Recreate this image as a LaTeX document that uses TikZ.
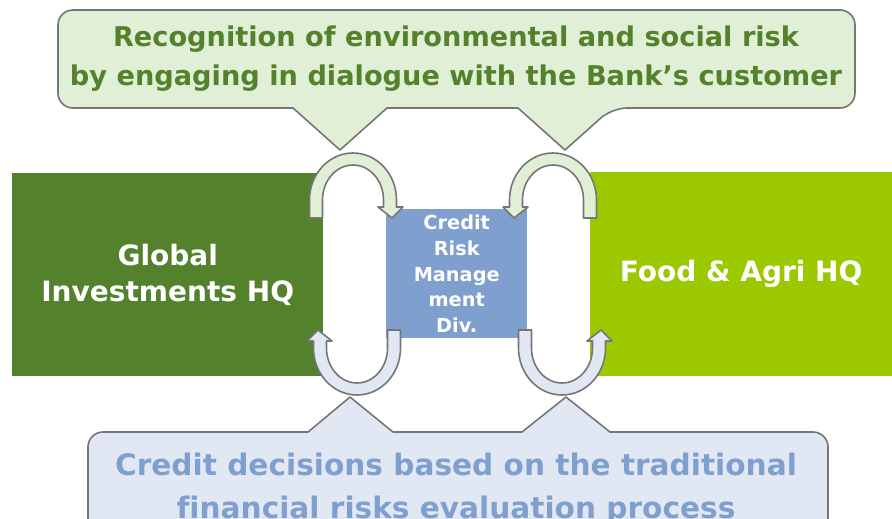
\documentclass[tikz,border=0pt]{standalone}
\usepackage{fontspec}
\setmainfont{DejaVu Sans}[Ligatures=NoCommon]
\definecolor{gdark}{RGB}{84,130,44}
\definecolor{glime}{RGB}{156,200,0}
\definecolor{cblue}{RGB}{127,159,207}
\definecolor{cgreenfill}{RGB}{224,239,214}
\definecolor{cbluefill}{RGB}{225,232,244}
\definecolor{cedge}{RGB}{118,118,118}
\definecolor{tgreen}{RGB}{84,130,44}
\newcommand{\uturnshape}{%
  (-43.5,-18) -- (-43.5,0) arc[start angle=180, end angle=0, x radius=43.5, y radius=47]
  -- (43.5,-7) -- (50,-7) -- (39,-18) -- (25,-7) -- (30.5,-7) -- (30.5,0)
  arc[start angle=0, end angle=180, x radius=30.5, y radius=35]
  -- (-30.5,-18) -- cycle}
\tikzset{
  callout/.style={draw=cedge, line width=1.6pt, line join=round},
  uturn/.style={draw=cedge, line width=1.6pt, line join=round},
  hqbox/.style={inner sep=0pt, text=white, font=\bfseries\fontsize{28}{36}\selectfont, align=center},
  bigtext/.style={align=center, inner sep=0pt, anchor=base},
}
\begin{document}
\begin{tikzpicture}[x=1pt,y=1pt]
\useasboundingbox (0,0) rectangle (892,-519);
\clip (0,0) rectangle (892,-519);
% boxes
\node[hqbox, fill=gdark, minimum width=311pt, minimum height=203pt, anchor=north west] (gih) at (12,-173) {Global\\Investments HQ};
\node[hqbox, fill=glime, minimum width=302pt, minimum height=204pt, anchor=north west] (fah) at (590,-172) {Food \& Agri HQ};
\node[hqbox, fill=cblue, minimum width=141pt, minimum height=129pt, anchor=north west,
  font=\bfseries\fontsize{19.3}{25.7}\selectfont] (crm) at (386,-209) {Credit\\Risk\\Manage\\ment\\Div.};
% top callout
\draw[callout, fill=cgreenfill, rounded corners=15pt]
  (58,-10) -- (855,-10) -- (855,-108) -- (612,-108)
  {[sharp corners] -- (565,-150) -- (518,-108) -- (387,-108) -- (340,-150) -- (293,-108)} -- (58,-108) -- cycle;
\node[bigtext, text=tgreen, font=\bfseries\fontsize{27.2}{39}\selectfont] (top) at (456,-85) {Recognition of environmental and social risk\\by engaging in dialogue with the Bank’s customer};
% bottom callout
\draw[callout, fill=cbluefill, rounded corners=15pt]
  (88,-560) -- (88,-432) {[sharp corners] -- (308,-432) -- (350,-397) -- (393,-432) -- (522,-432) -- (566,-397) -- (610,-432)} -- (828,-432) -- (828,-560) -- cycle;
\node[bigtext, text=cblue, font=\bfseries\fontsize{29.6}{43}\selectfont] (bot) at (456,-518) {Credit decisions based on the traditional\\financial risks evaluation process};
% u-turn arrows
\begin{scope}[shift={(353,-200)}]
  \draw[uturn, fill=cgreenfill] \uturnshape;
\end{scope}
\begin{scope}[shift={(553,-200)}, xscale=-1]
  \draw[uturn, fill=cgreenfill] \uturnshape;
\end{scope}
\begin{scope}[shift={(357,-348)}, rotate=180]
  \draw[uturn, fill=cbluefill] \uturnshape;
\end{scope}
\begin{scope}[shift={(562,-348)}, yscale=-1]
  \draw[uturn, fill=cbluefill] \uturnshape;
\end{scope}
\end{tikzpicture}
\end{document}
